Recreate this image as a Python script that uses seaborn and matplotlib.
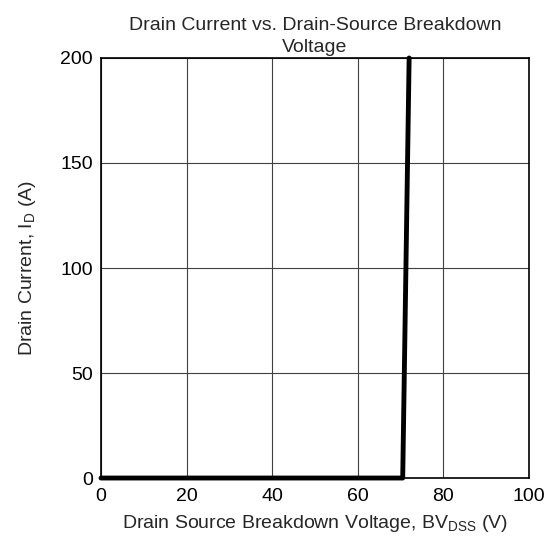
import matplotlib
matplotlib.use("Agg")
import matplotlib.pyplot as plt
import seaborn as sns
import pandas as pd

# Data
vds = [0, 70.5, 72.0]
id_a = [0, 0, 200]
x_ticks = [0, 20, 40, 60, 80, 100]
y_ticks = [0, 50, 100, 150, 200]

sns.set_theme(style="white")
plt.rcParams['font.family'] = ['Liberation Sans', 'DejaVu Sans']
plt.rcParams['mathtext.fontset'] = 'custom'
plt.rcParams['mathtext.rm'] = 'Liberation Sans'
plt.rcParams['mathtext.it'] = 'Liberation Sans:italic'

df = pd.DataFrame({"Vds": vds, "Id": id_a})

fig = plt.figure(figsize=(5.51, 5.46), dpi=100)
ax = fig.add_axes([0.1833, 0.1245, 0.7767, 0.7693])

sns.lineplot(data=df, x="Vds", y="Id", sort=False, color="black",
             linewidth=3.5, ax=ax, clip_on=False, zorder=5)

fs = 14
ax.set_xlim(0, 100)
ax.set_ylim(0, 200)
ax.set_xticks(x_ticks)
ax.set_yticks(y_ticks)
ax.set_xticklabels([str(v) for v in x_ticks], fontsize=fs)
ax.set_yticklabels([str(v) for v in y_ticks], fontsize=fs)
ax.tick_params(axis='x', length=0, pad=7, colors='black')
ax.tick_params(axis='y', length=0, pad=6, colors='black')
ax.grid(True, color='#404040', linewidth=0.8)
for s in ax.spines.values():
    s.set_color('black')
    s.set_linewidth(1.2)
    s.set_visible(True)

ax.set_xlabel(r"Drain Source Breakdown Voltage, BV$_{\mathrm{DSS}}$ (V)", fontsize=fs, labelpad=6)
ax.set_ylabel(r"Drain Current, I$_{\mathrm{D}}$ (A)", fontsize=fs, labelpad=16)
ax.set_title("Drain Current vs. Drain-Source Breakdown\nVoltage", fontsize=fs, pad=4, linespacing=1.45)

fig.savefig("out.png", dpi=100)
